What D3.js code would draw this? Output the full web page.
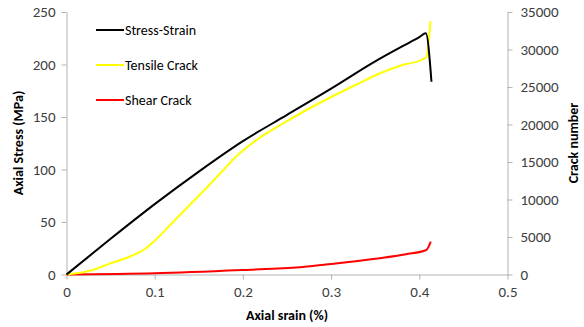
<!DOCTYPE html>
<html>
<head>
<meta charset="utf-8">
<script src="https://cdn.jsdelivr.net/npm/d3@7"></script>
<style>
  body { margin: 0; background: #fff; }
  text { font-family: Carlito, "Open Sans", "Noto Sans", sans-serif; fill: #404040; }
</style>
</head>
<body>
<svg width="584" height="327"></svg>
<script>
// strain (%) / stress (MPa)
const stressStrain = [
  [0, 0], [0.05, 34], [0.1, 67], [0.15, 98], [0.2, 127], [0.25, 152],
  [0.3, 177], [0.35, 203], [0.38, 217], [0.4, 226], [0.4074, 229.7], [0.4138, 183.6]
];
// strain (%) / tensile crack count
const tensileCrack = [
  [0, 0], [0.03, 600], [0.05, 1500], [0.07, 2300], [0.09, 3500], [0.1, 4500], [0.12, 6900],
  [0.14, 9300], [0.16, 11700], [0.18, 14200], [0.192, 15700], [0.22, 18300], [0.242, 19900],
  [0.27, 21800], [0.299, 23600], [0.33, 25400], [0.355, 26800], [0.38, 27900], [0.404, 28700],
  [0.408, 29000], [0.4127, 33800]
];
// strain (%) / shear crack count
const shearCrack = [
  [0, 0], [0.1, 160], [0.2, 600], [0.265, 960], [0.3, 1400], [0.35, 2100], [0.385, 2700],
  [0.408, 3270], [0.413, 4370]
];
const xTicks = [0, 0.1, 0.2, 0.3, 0.4, 0.5];
const yTicks = [0, 50, 100, 150, 200, 250];
const y2Ticks = [0, 5000, 10000, 15000, 20000, 25000, 30000, 35000];
const legendLabels = ['Stress-Strain', 'Tensile Crack', 'Shear Crack'];
const legendColors = ['#000000', '#ffff00', '#ff0000'];

const svg = d3.select('svg');
const plotLeft = 66.5, plotRight = 507.5, plotTop = 12, plotBottom = 274.5;
const axisColor = '#b3b3b3';

const x = d3.scaleLinear().domain([0, 0.5]).range([plotLeft, plotRight]);
const y = d3.scaleLinear().domain([0, 250]).range([plotBottom, plotTop]);
const y2 = d3.scaleLinear().domain([0, 35000]).range([plotBottom, plotTop]);

function styleAxis(g) {
  g.select('.domain').attr('stroke', axisColor);
  g.selectAll('.tick line').attr('stroke', axisColor);
  g.selectAll('.tick text')
    .style('font-size', '15px')
    .attr('fill', '#404040');
}

svg.append('g')
  .attr('transform', `translate(0,${plotBottom})`)
  .call(d3.axisBottom(x).tickValues(xTicks).tickFormat(d => d === 0 ? '0' : d3.format('.1f')(d))
    .tickSizeInner(5).tickSizeOuter(0).tickPadding(7))
  .call(styleAxis);

svg.append('g')
  .attr('transform', `translate(${plotLeft},0)`)
  .call(d3.axisLeft(y).tickValues(yTicks).tickSizeInner(5).tickSizeOuter(0).tickPadding(6))
  .call(styleAxis);

svg.append('g')
  .attr('transform', `translate(${plotRight},0)`)
  .call(d3.axisRight(y2).tickValues(y2Ticks).tickFormat(d3.format('d'))
    .tickSizeInner(5).tickSizeOuter(0).tickPadding(8))
  .call(styleAxis);

// axis titles
svg.append('text')
  .attr('x', 287).attr('y', 320)
  .attr('text-anchor', 'middle')
  .style('font-size', '14px').style('font-weight', 'bold').style('fill', '#000')
  .text('Axial srain (%)');

svg.append('text')
  .attr('transform', 'translate(23,143) rotate(-90)')
  .attr('text-anchor', 'middle')
  .style('font-size', '14px').style('font-weight', 'bold').style('fill', '#000')
  .text('Axial Stress (MPa)');

svg.append('text')
  .attr('transform', 'translate(578,143) rotate(-90)')
  .attr('text-anchor', 'middle')
  .style('font-size', '14px').style('font-weight', 'bold').style('fill', '#000')
  .text('Crack number');

// series
const line = d3.line().curve(d3.curveMonotoneX).x(d => x(d[0])).y(d => y(d[1]));
const line2 = d3.line().curve(d3.curveMonotoneX).x(d => x(d[0])).y(d => y2(d[1]));

svg.append('path').datum(shearCrack)
  .attr('d', line2).attr('fill', 'none').attr('stroke', '#ff0000').attr('stroke-width', 2);
svg.append('path').datum(tensileCrack)
  .attr('d', line2).attr('fill', 'none').attr('stroke', '#ffff00').attr('stroke-width', 2);
svg.append('path').datum(stressStrain)
  .attr('d', line).attr('fill', 'none').attr('stroke', '#000000').attr('stroke-width', 2);

// legend
const legend = svg.append('g').attr('transform', 'translate(96,30)');
legendLabels.forEach((label, i) => {
  const row = legend.append('g').attr('transform', `translate(0,${i * 35})`);
  row.append('line').attr('x1', 0).attr('x2', 28).attr('y1', 0).attr('y2', 0)
    .attr('stroke', legendColors[i]).attr('stroke-width', 2);
  row.append('text').attr('x', 29).attr('y', 5)
    .style('font-size', '14px').style('fill', '#000')
    .text(label);
});
</script>
</body>
</html>
